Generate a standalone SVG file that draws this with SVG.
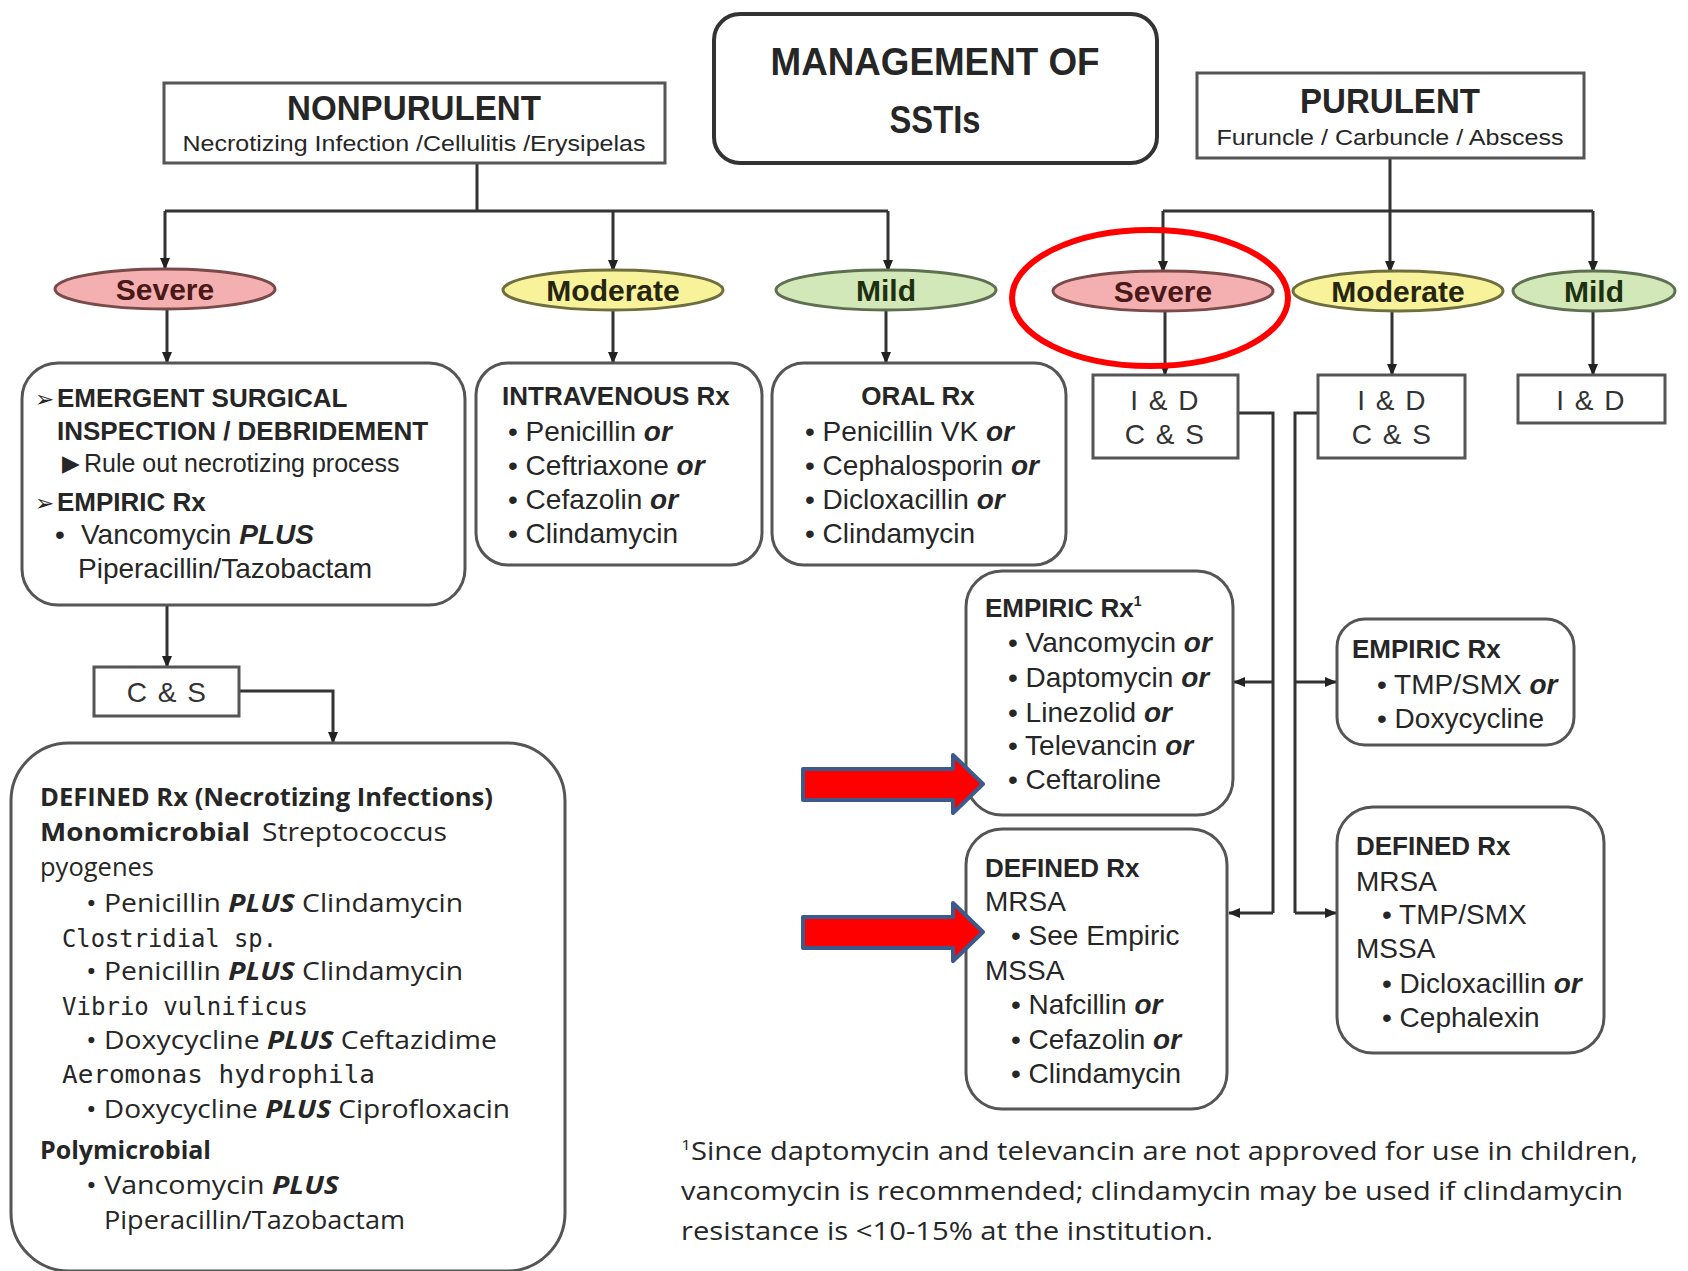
<svg xmlns="http://www.w3.org/2000/svg" width="1688" height="1271" viewBox="0 0 1688 1271">
<defs>
<marker id="ah" markerWidth="14" markerHeight="14" refX="11" refY="6" orient="auto" markerUnits="userSpaceOnUse"><path d="M0,1 L12,6 L0,11 Z" fill="#222"/></marker>
<style>
.box{fill:#fff;stroke:#555;stroke-width:3}
.tb{fill:#fff;stroke:#333;stroke-width:4}
.t{font-family:"Liberation Sans",Arial,sans-serif;fill:#262626}
.h{font-weight:bold;font-size:26px}
.i{font-size:28px}
.bi{font-weight:bold;font-style:italic}
.sym{font-family:"DejaVu Sans",sans-serif;font-size:23px;fill:#262626}
.lbl{font-family:"Liberation Sans",Arial,sans-serif;font-weight:bold;font-size:30px;text-anchor:middle}
.o{font-family:"Open Sans","Liberation Sans",sans-serif;font-size:25px;fill:#262626}
.ob{font-family:"Open Sans","Liberation Sans",sans-serif;font-size:25px;font-weight:bold;fill:#262626}
.m{font-family:"DejaVu Sans Mono","Liberation Mono",monospace;font-size:25px;fill:#262626}
.conn{stroke:#333;stroke-width:3;fill:none}
.ba{fill:#ff0000;stroke:#3c5a8c;stroke-width:4;stroke-linejoin:round}
.cs{font-family:"Liberation Sans",Arial,sans-serif;font-size:28px;fill:#333;text-anchor:middle;letter-spacing:1.5px}
</style>
</defs>
<rect width="1688" height="1271" fill="#fff"/>

<g id="connectors">
<path class="conn" d="M477 163 V211 M165 211 H888"/>
<path class="conn" d="M165 211 V269" marker-end="url(#ah)"/>
<path class="conn" d="M613 211 V271" marker-end="url(#ah)"/>
<path class="conn" d="M888 211 V271" marker-end="url(#ah)"/>
<path class="conn" d="M167 309 V363" marker-end="url(#ah)"/>
<path class="conn" d="M613 310 V363" marker-end="url(#ah)"/>
<path class="conn" d="M886 310 V363" marker-end="url(#ah)"/>
<path class="conn" d="M1390 158 V211 M1163 211 H1593"/>
<path class="conn" d="M1163 211 V272" marker-end="url(#ah)"/>
<path class="conn" d="M1390 211 V272" marker-end="url(#ah)"/>
<path class="conn" d="M1593 211 V272" marker-end="url(#ah)"/>
<path class="conn" d="M1165 310 V375" marker-end="url(#ah)"/>
<path class="conn" d="M1392 311 V375" marker-end="url(#ah)"/>
<path class="conn" d="M1593 311 V375" marker-end="url(#ah)"/>
<path class="conn" d="M167 605 V667" marker-end="url(#ah)"/>
<path class="conn" d="M239 691 H333 V743" marker-end="url(#ah)"/>
<path class="conn" d="M1238 413 H1273 V913"/>
<path class="conn" d="M1273 682 H1234" marker-end="url(#ah)"/>
<path class="conn" d="M1273 913 H1229" marker-end="url(#ah)"/>
<path class="conn" d="M1318 413 H1295 V913"/>
<path class="conn" d="M1295 682 H1336" marker-end="url(#ah)"/>
<path class="conn" d="M1295 913 H1336" marker-end="url(#ah)"/>
</g>

<g id="title">
<rect class="tb" x="714" y="14" width="443" height="149" rx="26"/>
<text class="t" x="935" y="75" font-size="38" font-weight="bold" text-anchor="middle" textLength="329" lengthAdjust="spacingAndGlyphs">MANAGEMENT OF</text>
<text class="t" x="935" y="133" font-size="38" font-weight="bold" text-anchor="middle" textLength="91" lengthAdjust="spacingAndGlyphs">SSTIs</text>
</g>

<g id="nonpurulent">
<rect class="box" x="164" y="83" width="501" height="80"/>
<text class="t" x="414" y="120" font-size="35" font-weight="bold" text-anchor="middle" textLength="254" lengthAdjust="spacingAndGlyphs">NONPURULENT</text>
<text class="t" x="414" y="151" font-size="22" text-anchor="middle" textLength="463" lengthAdjust="spacingAndGlyphs" fill="#333">Necrotizing Infection /Cellulitis /Erysipelas</text>
</g>

<g id="purulent">
<rect class="box" x="1197" y="73" width="387" height="85"/>
<text class="t" x="1390" y="113" font-size="35" font-weight="bold" text-anchor="middle" textLength="180" lengthAdjust="spacingAndGlyphs">PURULENT</text>
<text class="t" x="1390" y="145" font-size="22" text-anchor="middle" textLength="347" lengthAdjust="spacingAndGlyphs" fill="#333">Furuncle / Carbuncle / Abscess</text>
</g>

<g id="np-severe">
<ellipse cx="165" cy="289" rx="110" ry="20" fill="#f4b0b0" stroke="#7a4a4a" stroke-width="3"/>
<text class="lbl" x="165" y="300" fill="#4a1818">Severe</text>
</g>
<g id="np-moderate">
<ellipse cx="613" cy="290" rx="110" ry="20" fill="#f8f29a" stroke="#6e6e3e" stroke-width="3"/>
<text class="lbl" x="613" y="301" fill="#262610">Moderate</text>
</g>
<g id="np-mild">
<ellipse cx="886" cy="290" rx="110" ry="20" fill="#d2e8b8" stroke="#5e7050" stroke-width="3"/>
<text class="lbl" x="886" y="301" fill="#1e3010">Mild</text>
</g>

<g id="p-severe">
<ellipse cx="1163" cy="291" rx="110" ry="20" fill="#f4b0b0" stroke="#7a4a4a" stroke-width="3"/>
<text class="lbl" x="1163" y="302" fill="#4a1818">Severe</text>
</g>
<g id="p-moderate">
<ellipse cx="1398" cy="291" rx="105" ry="20" fill="#f8f29a" stroke="#6e6e3e" stroke-width="3"/>
<text class="lbl" x="1398" y="302" fill="#262610">Moderate</text>
</g>
<g id="p-mild">
<ellipse cx="1594" cy="291" rx="81" ry="20" fill="#d2e8b8" stroke="#5e7050" stroke-width="3"/>
<text class="lbl" x="1594" y="302" fill="#1e3010">Mild</text>
</g>

<g id="highlight-circle">
<ellipse cx="1150" cy="298" rx="138" ry="68" fill="none" stroke="#ff0000" stroke-width="6"/>
</g>

<g id="np-severe-box">
<rect class="box" x="22" y="363" width="443" height="242" rx="36"/>
<text class="sym" x="35" y="407">➢</text>
<text class="t h" x="57" y="407">EMERGENT SURGICAL</text>
<text class="t h" x="57" y="440">INSPECTION / DEBRIDEMENT</text>
<text class="sym" x="62" y="471" font-size="18">▶</text>
<text class="t" x="84" y="472" font-size="25">Rule out necrotizing process</text>
<text class="sym" x="35" y="511">➢</text>
<text class="t h" x="57" y="511">EMPIRIC Rx</text>
<text class="t i" x="55" y="544">•</text>
<text class="t i" x="81" y="544">Vancomycin <tspan class="bi">PLUS</tspan></text>
<text class="t i" x="78" y="578">Piperacillin/Tazobactam</text>
</g>

<g id="np-moderate-box">
<rect class="box" x="476" y="363" width="286" height="202" rx="32"/>
<text class="t h" x="502" y="405">INTRAVENOUS Rx</text>
<text class="t i" x="508" y="441">• Penicillin <tspan class="bi">or</tspan></text>
<text class="t i" x="508" y="475">• Ceftriaxone <tspan class="bi">or</tspan></text>
<text class="t i" x="508" y="509">• Cefazolin <tspan class="bi">or</tspan></text>
<text class="t i" x="508" y="543">• Clindamycin</text>
</g>

<g id="np-mild-box">
<rect class="box" x="772" y="363" width="294" height="202" rx="32"/>
<text class="t h" x="918" y="405" text-anchor="middle">ORAL Rx</text>
<text class="t i" x="805" y="441">• Penicillin VK  <tspan class="bi">or</tspan></text>
<text class="t i" x="805" y="475">• Cephalosporin <tspan class="bi">or</tspan></text>
<text class="t i" x="805" y="509">• Dicloxacillin <tspan class="bi">or</tspan></text>
<text class="t i" x="805" y="543">• Clindamycin</text>
</g>

<g id="np-cs">
<rect class="box" x="94" y="667" width="145" height="49"/>
<text class="cs" x="167" y="702">C &amp; S</text>
</g>

<g id="np-defined">
<rect class="box" x="11" y="743" width="554" height="528" rx="58"/>
<text class="ob" x="40" y="806" font-size="23" textLength="453" lengthAdjust="spacingAndGlyphs">DEFINED Rx (Necrotizing Infections)</text>
<text class="ob" x="40" y="841" font-size="26" textLength="210" lengthAdjust="spacingAndGlyphs">Monomicrobial</text>
<text class="o" x="262" y="841" textLength="185" lengthAdjust="spacingAndGlyphs">Streptococcus</text>
<text class="o" x="40" y="876" textLength="114" lengthAdjust="spacingAndGlyphs">pyogenes</text>
<text class="o" x="86" y="912" textLength="377" lengthAdjust="spacingAndGlyphs">• Penicillin <tspan class="bi">PLUS</tspan> Clindamycin</text>
<text class="m" x="62" y="947" textLength="215" lengthAdjust="spacingAndGlyphs">Clostridial sp.</text>
<text class="o" x="86" y="980" textLength="377" lengthAdjust="spacingAndGlyphs">• Penicillin <tspan class="bi">PLUS</tspan> Clindamycin</text>
<text class="m" x="62" y="1015" textLength="246" lengthAdjust="spacingAndGlyphs">Vibrio vulnificus</text>
<text class="o" x="86" y="1049" textLength="411" lengthAdjust="spacingAndGlyphs">• Doxycycline <tspan class="bi">PLUS</tspan> Ceftazidime</text>
<text class="m" x="62" y="1083" textLength="313" lengthAdjust="spacingAndGlyphs">Aeromonas hydrophila</text>
<text class="o" x="86" y="1118" textLength="424" lengthAdjust="spacingAndGlyphs">• Doxycycline <tspan class="bi">PLUS</tspan> Ciprofloxacin</text>
<text class="ob" x="40" y="1159" font-size="23" textLength="171" lengthAdjust="spacingAndGlyphs">Polymicrobial</text>
<text class="o" x="86" y="1194" textLength="253" lengthAdjust="spacingAndGlyphs">• Vancomycin <tspan class="bi">PLUS</tspan></text>
<text class="o" x="104" y="1229" textLength="301" lengthAdjust="spacingAndGlyphs">Piperacillin/Tazobactam</text>
</g>

<g id="p-severe-id">
<rect class="box" x="1093" y="375" width="145" height="83"/>
<text class="cs" x="1165" y="410">I &amp; D</text>
<text class="cs" x="1165" y="444">C &amp; S</text>
</g>
<g id="p-moderate-id">
<rect class="box" x="1318" y="375" width="147" height="83"/>
<text class="cs" x="1392" y="410">I &amp; D</text>
<text class="cs" x="1392" y="444">C &amp; S</text>
</g>
<g id="p-mild-id">
<rect class="box" x="1518" y="375" width="147" height="48"/>
<text class="cs" x="1591" y="410">I &amp; D</text>
</g>

<g id="p-severe-empiric">
<rect class="box" x="966" y="571" width="267" height="244" rx="36"/>
<text class="t h" x="985" y="617" font-size="25">EMPIRIC Rx<tspan font-size="14" dy="-11">1</tspan></text>
<text class="t i" x="1008" y="652">• Vancomycin <tspan class="bi">or</tspan></text>
<text class="t i" x="1008" y="687">• Daptomycin <tspan class="bi">or</tspan></text>
<text class="t i" x="1008" y="722">• Linezolid <tspan class="bi">or</tspan></text>
<text class="t i" x="1008" y="755">• Televancin <tspan class="bi">or</tspan></text>
<text class="t i" x="1008" y="789">• Ceftaroline</text>
</g>

<g id="p-severe-defined">
<rect class="box" x="966" y="829" width="261" height="280" rx="36"/>
<text class="t h" x="985" y="877" font-size="25">DEFINED Rx</text>
<text class="t i" x="985" y="911">MRSA</text>
<text class="t i" x="1011" y="945">• See Empiric</text>
<text class="t i" x="985" y="980">MSSA</text>
<text class="t i" x="1011" y="1014">• Nafcillin <tspan class="bi">or</tspan></text>
<text class="t i" x="1011" y="1049">• Cefazolin <tspan class="bi">or</tspan></text>
<text class="t i" x="1011" y="1083">• Clindamycin</text>
</g>

<g id="p-moderate-empiric">
<rect class="box" x="1337" y="619" width="237" height="126" rx="28"/>
<text class="t h" x="1352" y="658" font-size="25">EMPIRIC Rx</text>
<text class="t i" x="1377" y="694">• TMP/SMX <tspan class="bi">or</tspan></text>
<text class="t i" x="1377" y="728">• Doxycycline</text>
</g>

<g id="p-moderate-defined">
<rect class="box" x="1337" y="807" width="267" height="246" rx="36"/>
<text class="t h" x="1356" y="855" font-size="25">DEFINED Rx</text>
<text class="t i" x="1356" y="891">MRSA</text>
<text class="t i" x="1382" y="924">• TMP/SMX</text>
<text class="t i" x="1356" y="958">MSSA</text>
<text class="t i" x="1382" y="993">• Dicloxacillin <tspan class="bi">or</tspan></text>
<text class="t i" x="1382" y="1027">• Cephalexin</text>
</g>

<g id="red-arrows">
<path class="ba" d="M803 769 H953 V755 L983 784 L953 813 V800 H803 Z"/>
<path class="ba" d="M803 917 H953 V903 L983 932 L953 961 V948 H803 Z"/>
</g>

<g id="footnote">
<text class="o" x="681" y="1160" font-size="26" fill="#333" textLength="957" lengthAdjust="spacingAndGlyphs"><tspan font-size="15" dy="-10">1</tspan><tspan dy="10">Since daptomycin and televancin are not approved for use in children,</tspan></text>
<text class="o" x="681" y="1200" font-size="26" fill="#333" textLength="942" lengthAdjust="spacingAndGlyphs">vancomycin is recommended; clindamycin may be used if clindamycin</text>
<text class="o" x="681" y="1240" font-size="26" fill="#333" textLength="532" lengthAdjust="spacingAndGlyphs">resistance is &lt;10-15% at the institution.</text>
</g>
</svg>
